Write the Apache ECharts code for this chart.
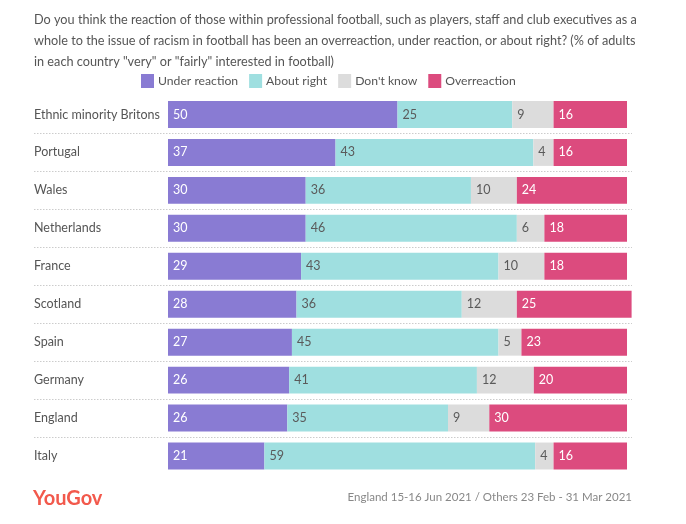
<!DOCTYPE html>
<html>
<head>
<meta charset="utf-8">
<script src="https://cdn.jsdelivr.net/npm/echarts@6/dist/echarts.min.js"></script>
<style>html,body{margin:0;padding:0;background:#fff}#c{width:686px;height:524px}</style>
</head>
<body>
<div id="c"></div>
<script>
const categories = ["Ethnic minority Britons","Portugal","Wales","Netherlands","France","Scotland","Spain","Germany","England","Italy"];
const underReaction = [50,36.5,30,30,29,28,27,26.4,26,21];
const aboutRight    = [25,43.1,36,46,43,36,45,40.9,35,59];
const dontKnow      = [9,4.4,10,6,10,12,5,12.4,9,4];
const overreaction  = [16,16,24,18,18,25,23,20.3,30,16];
const seriesNames = ["Under reaction","About right","Don't know","Overreaction"];
const colors = ["#897bd3","#9fdfe0","#dcdcdc","#dc4b7e"];
const labelColors = ["#ffffff","#5a5a5a","#5a5a5a","#ffffff"];
const titleText = "Do you think the reaction of those within professional football, such as players, staff and club executives as a\nwhole to the issue of racism in football has been an overreaction, under reaction, or about right? (% of adults\nin each country \"very\" or \"fairly\" interested in football)";
const sourceText = "England 15-16 Jun 2021 / Others 23 Feb - 31 Mar 2021";

const FONT = "Lato";
const chart = echarts.init(document.getElementById('c'), null, {renderer:'canvas'});
const dataSets = [underReaction, aboutRight, dontKnow, overreaction];

const series = dataSets.map((d, i) => ({
  name: seriesNames[i],
  type: 'bar',
  stack: 'total',
  xAxisIndex: 0,
  yAxisIndex: 0,
  barCategoryGap: '29%',
  itemStyle: {color: colors[i]},
  label: {
    show: true,
    position: 'insideLeft',
    distance: 5,
    color: labelColors[i],
    fontFamily: FONT,
    fontSize: 12.5,
    formatter: p => String(Math.round(p.value))
  },
  emphasis: {disabled: true},
  data: d
}));
series.push({type:'scatter', xAxisIndex:1, yAxisIndex:1, data:[], silent:true});

chart.setOption({
  animation: false,
  textStyle: {fontFamily: FONT},
  title: [
    {text: titleText, left: 29, top: 4,
     textStyle: {fontFamily: FONT, fontSize: 12.7, fontWeight: 'normal', color: '#555', lineHeight: 21}},
    {text: 'YouGov', left: 28, top: 484,
     textStyle: {fontFamily: FONT, fontSize: 20, fontWeight: 'bold', color: '#f2594c'}},
    {text: sourceText, right: 49, top: 486,
     textStyle: {fontFamily: FONT, fontSize: 11.5, fontWeight: 'normal', color: '#888'}}
  ],
  legend: {
    left: 136, top: 69,
    itemWidth: 13, itemHeight: 14, itemGap: 11,
    icon: 'rect',
    selectedMode: false,
    data: seriesNames,
    textStyle: {fontFamily: FONT, fontSize: 12.2, color: '#555', padding: [0,0,0,-1]}
  },
  grid: [
    {left: 168, right: 54.4, top: 95.5, bottom: 49},
    {left: 34, right: 54, top: 95.5, bottom: 49}
  ],
  xAxis: [
    {type: 'value', gridIndex: 0, min: 0, max: 101, show: false},
    {type: 'value', gridIndex: 1, min: 0, max: 1, show: false}
  ],
  yAxis: [
    {type: 'category', gridIndex: 0, data: categories, inverse: true,
     axisLine: {show: false}, axisTick: {show: false}, splitLine: {show: false},
     axisLabel: {align: 'left', margin: 134, fontFamily: FONT, fontSize: 12.5, color: '#555'}},
    {type: 'value', gridIndex: 1, min: 0, max: categories.length, interval: 1,
     axisLine: {show: false}, axisTick: {show: false}, axisLabel: {show: false},
     splitLine: {show: true, showMinLine: false, showMaxLine: false,
       lineStyle: {color: '#cccccc', type: [1.5, 1.5], width: 1}}}
  ],
  series: series
});
</script>
</body>
</html>
